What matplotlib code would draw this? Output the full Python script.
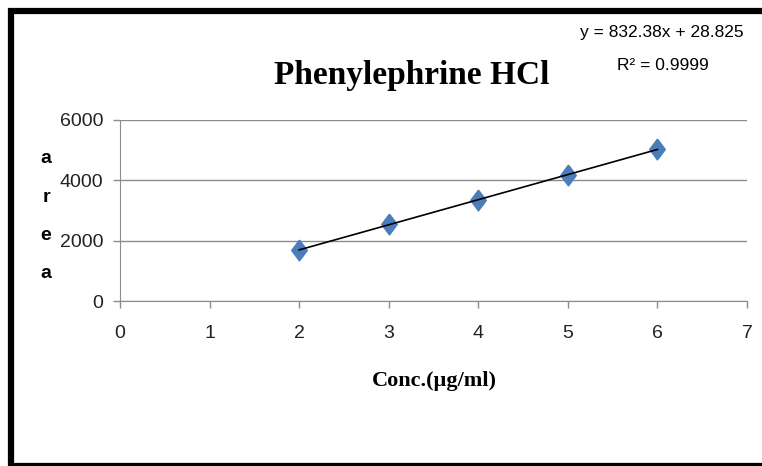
import numpy as np
import matplotlib.pyplot as plt
from matplotlib import font_manager
from matplotlib.patches import Rectangle

conc = [2, 3, 4, 5, 6]
area = [1705, 2540, 3345, 4185, 5030]
slope = 832.38
intercept = 28.825
r2 = 0.9999
x_ticks = [0, 1, 2, 3, 4, 5, 6, 7]
y_ticks = [0, 2000, 4000, 6000]

# pick a narrow sans if there is one, the reference uses a condensed face
have = {f.name for f in font_manager.fontManager.ttflist}
narrow_fonts = ['Liberation Sans Narrow', 'DejaVu Sans Condensed', 'Liberation Sans']
narrow = [f for f in narrow_fonts if f in have][0]
is_narrow = narrow != 'Liberation Sans'
serif = ['Liberation Serif', 'DejaVu Serif']
grey = '#8c8c8c'

tick_fs = 15 if is_narrow else 14
eq_fs = 14 if is_narrow else 12.5

W, H = 762, 466
fig = plt.figure(figsize=(W / 100, H / 100), dpi=100)
ax = fig.add_axes([120 / W, 1 - 301 / H, 627 / W, 181 / H])

# trend line from the fitted equation
xl = np.array([conc[0], conc[-1]])
ax.plot(xl, slope * xl + intercept, color='black', lw=1.2, zorder=3)

diamond = [(0, 1), (0.75, 0), (0, -1), (-0.75, 0), (0, 1)]
ax.plot(conc, area, linestyle='none', marker=diamond, markersize=15,
        color='#4a7ebb', zorder=2)

ax.set_xlim(0, 7)
ax.set_ylim(0, 6000)
ax.set_xticks(x_ticks)
ax.set_yticks(y_ticks)
ax.yaxis.grid(True, color=grey, lw=1)
ax.set_axisbelow(True)
for s in ['top', 'right']:
    ax.spines[s].set_visible(False)
for s in ['left', 'bottom']:
    ax.spines[s].set_color(grey)
ax.tick_params(axis='both', direction='out', length=5, color=grey, width=1)
ax.tick_params(axis='y', pad=7)
ax.tick_params(axis='x', pad=12)
for lab in ax.get_xticklabels() + ax.get_yticklabels():
    lab.set_family(narrow)
    lab.set_fontsize(tick_fs)
    lab.set_color('#222222')

fig.text(412 / W, 1 - 84 / H, 'Phenylephrine HCl', family=serif,
         fontweight='bold', fontsize=24, ha='center', va='baseline')
fig.text(434 / W, 1 - 381 / H, 'Conc.(µg/ml)', family=serif,
         fontweight='bold', fontsize=16, ha='center', va='center')

fig.text(662 / W, 1 - 33 / H, f'y = {slope}x + {intercept}', family=narrow,
         fontsize=eq_fs, ha='center', va='center')
fig.text(663 / W, 1 - 65 / H, f'R² = {r2}', family=narrow,
         fontsize=eq_fs, ha='center', va='center')

for i, ch in enumerate('area'):
    fig.text(46 / W, 1 - (163 + 38.5 * i) / H, ch, family=narrow,
             fontweight='bold', fontsize=14, ha='center', va='baseline')

fig.patches.append(Rectangle((10.5 / W, 0.5 / H), 1.2, 1 - 11.5 / H,
                             transform=fig.transFigure, fill=False,
                             edgecolor='black', lw=4.5))

fig.savefig('out.png', dpi=100)
